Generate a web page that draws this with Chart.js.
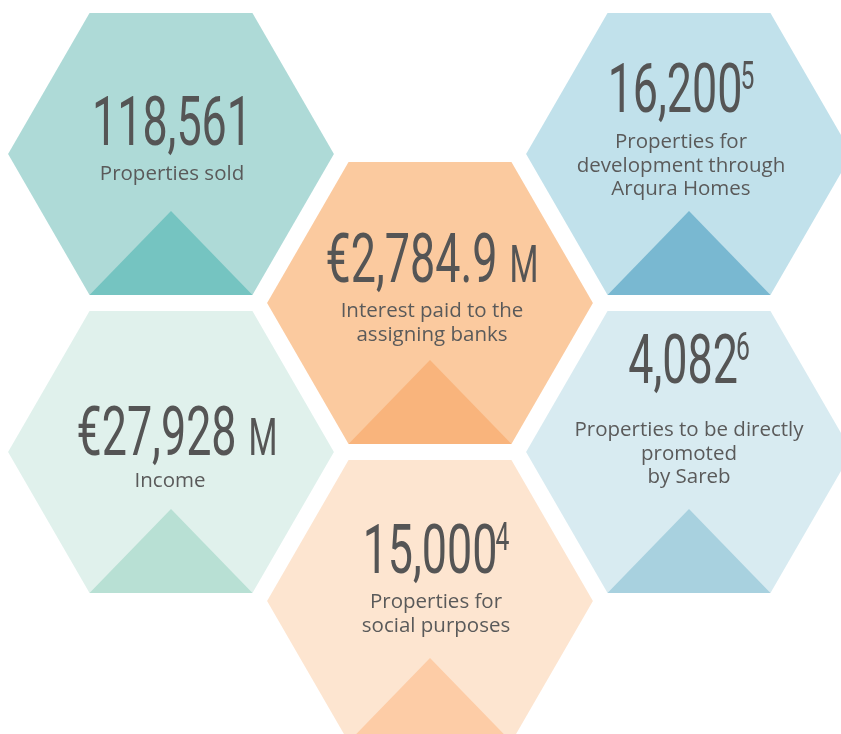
<!DOCTYPE html>
<html>
<head>
<meta charset="utf-8">
<script src="https://cdn.jsdelivr.net/npm/chart.js@4.4.1/dist/chart.umd.min.js"></script>
<style>
  html, body { margin: 0; padding: 0; background: #ffffff; }
  #wrap { width: 841px; height: 734px; }
</style>
</head>
<body>
<div id="wrap"><canvas id="myChart" width="841" height="734"></canvas></div>
<script>
// figures shown in the hexagons
var valores = [118561, 16200, 2784.9, 27928, 4082, 15000];
var decimales = [0, 0, 1, 0, 0, 0];
var prefijos = ["", "", "€", "€", "", ""];
var sufijos = ["", "", "M", "M", "", ""];
var notas = ["", "5", "", "", "6", "4"];
var etiquetas = [
  ["Properties sold"],
  ["Properties for", "development through", "Arqura Homes"],
  ["Interest paid to the", "assigning banks"],
  ["Income"],
  ["Properties to be directly", "promoted", "by Sareb"],
  ["Properties for", "social purposes"]
];

// honeycomb cell of each figure (column, row)
var columnas = [0, 2, 1, 0, 2, 1];
var filas = [0, 0, 0.5, 1, 1, 1.5];

var coloresHex = ["#aedad7", "#c1e1eb", "#fbca9f", "#e0f1ec", "#d8ebf1", "#fde5d0"];
var coloresTri = ["#75c4c1", "#79b8d1", "#f9b47c", "#b8e0d4", "#a8d1df", "#fdcca6"];

// text placement inside each cell (px from centre)
var offNumero = [-9, -42, -21, 3, -69, -28];
var offEtiqueta = [26, -6, 14, 35, -16, 7];
var offX = [1, -8, 2, 6, 0, 6];
var offXEtiqueta = [1, -8, 2, -1, 0, 6];

var RX = 0.629, RY = 0.473;   // hexagon half width / half height in cell units
var TRI = 0.191;              // triangle apex below centre

function hexagono(c, f){
  return [
    {x: c - RX, y: f},
    {x: c - RX / 2, y: f - RY},
    {x: c + RX / 2, y: f - RY},
    {x: c + RX, y: f},
    {x: c + RX / 2, y: f + RY},
    {x: c - RX / 2, y: f + RY},
    {x: c - RX, y: f}
  ];
}
function triangulo(c, f){
  return [
    {x: c - RX / 2, y: f + RY},
    {x: c, y: f + TRI},
    {x: c + RX / 2, y: f + RY},
    {x: c - RX / 2, y: f + RY}
  ];
}

var datasets = [];
for(var i = 0; i < valores.length; i++){
  datasets.push({
    data: hexagono(columnas[i], filas[i]),
    backgroundColor: coloresHex[i],
    borderColor: "rgba(0,0,0,0)",
    borderWidth: 0,
    fill: "shape",
    showLine: true,
    pointRadius: 0,
    order: 2
  });
  datasets.push({
    data: triangulo(columnas[i], filas[i]),
    backgroundColor: coloresTri[i],
    borderColor: "rgba(0,0,0,0)",
    borderWidth: 0,
    fill: "shape",
    showLine: true,
    pointRadius: 0,
    order: 1
  });
}

function formatear(i){
  return prefijos[i] + valores[i].toLocaleString("en-US", {
    minimumFractionDigits: decimales[i], maximumFractionDigits: decimales[i]
  });
}

var SX = 0.65;
var textos = {
  id: "textos",
  afterDatasetsDraw: function(chart){
    var ctx = chart.ctx;
    var xs = chart.scales.x, ys = chart.scales.y;
    ctx.save();
    ctx.textBaseline = "alphabetic";
    for(var i = 0; i < valores.length; i++){
      var px = xs.getPixelForValue(columnas[i]);
      var cx = px + offX[i];
      var cy = ys.getPixelForValue(filas[i]);
      var base = cy + offNumero[i];
      var num = formatear(i);
      ctx.fillStyle = "#555555";

      ctx.font = "400 69px Roboto";
      var wNum = ctx.measureText(num).width * SX;
      ctx.font = "400 51px Roboto";
      var wSuf = sufijos[i] ? ctx.measureText(sufijos[i]).width * SX + 12 : 0;
      ctx.font = "400 38px Roboto";
      var wNota = notas[i] ? ctx.measureText(notas[i]).width * SX - 2 : 0;
      var x0 = cx - (wNum + wSuf + wNota) / 2;

      ctx.textAlign = "left";
      ctx.save();
      ctx.translate(x0, base);
      ctx.scale(SX, 1);
      ctx.font = "400 69px Roboto";
      ctx.fillText(num, 0, 0);
      ctx.restore();
      if(sufijos[i]){
        ctx.save();
        ctx.translate(x0 + wNum + 12, base);
        ctx.scale(SX, 1);
        ctx.font = "400 51px Roboto";
        ctx.fillText(sufijos[i], 0, 0);
        ctx.restore();
      }
      if(notas[i]){
        ctx.save();
        ctx.translate(x0 + wNum - 2, base - 23);
        ctx.scale(SX, 1);
        ctx.font = "400 38px Roboto";
        ctx.fillText(notas[i], 0, 0);
        ctx.restore();
      }

      ctx.textAlign = "center";
      ctx.font = "20.5px 'Open Sans'";
      ctx.fillStyle = "#5a5a5a";
      var lineas = etiquetas[i];
      for(var j = 0; j < lineas.length; j++){
        ctx.fillText(lineas[j], px + offXEtiqueta[i], cy + offEtiqueta[i] + j * 23.5);
      }
    }
    ctx.restore();
  }
};

new Chart(document.getElementById("myChart"), {
  type: "scatter",
  data: { datasets: datasets },
  options: {
    responsive: false,
    animation: false,
    events: [],
    layout: { padding: 0 },
    plugins: { legend: { display: false }, tooltip: { enabled: false } },
    scales: {
      x: { type: "linear", display: false, min: -171 / 259, max: 670 / 259 },
      y: { type: "linear", display: false, reverse: true, min: -154 / 298, max: 580 / 298 }
    }
  },
  plugins: [textos]
});
</script>
</body>
</html>
